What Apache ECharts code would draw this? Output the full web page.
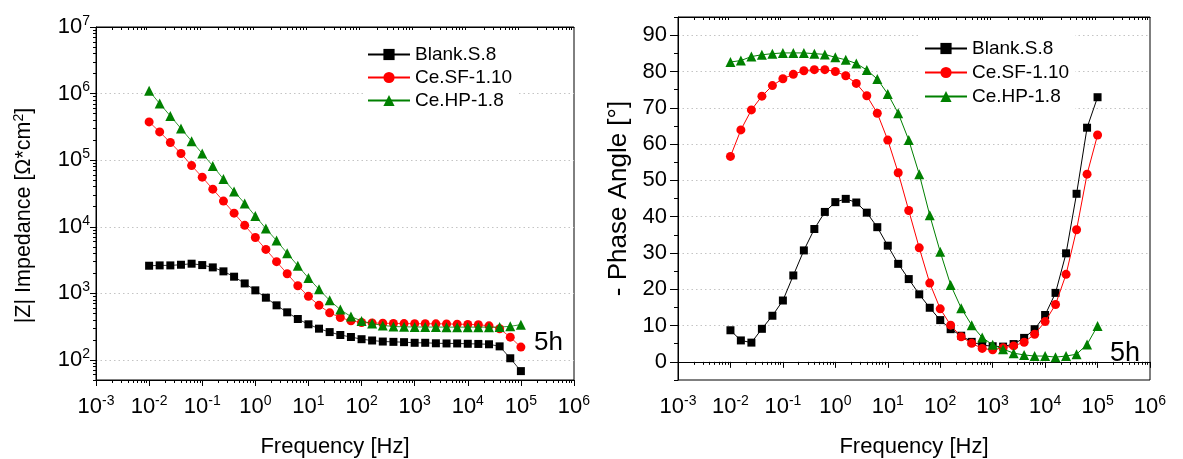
<!DOCTYPE html>
<html>
<head>
<meta charset="utf-8">
<script src="https://cdn.jsdelivr.net/npm/echarts@6/dist/echarts.min.js"></script>
<style>html,body{margin:0;padding:0;background:#fff}#c{width:1183px;height:459px}</style>
</head>
<body>
<div id="c"></div>
<script>
// ---------- data ----------
const freqHz = [0.01, 0.0158, 0.0251, 0.0398, 0.0631, 0.1, 0.158, 0.251, 0.398, 0.631,
  1, 1.58, 2.51, 3.98, 6.31, 10, 15.8, 25.1, 39.8, 63.1,
  100, 158, 251, 398, 631, 1000, 1580, 2510, 3980, 6310,
  10000, 15800, 25100, 39800, 63100, 100000];

const zBlank = [2600, 2630, 2630, 2690, 2790, 2660, 2455, 2140, 1780, 1410,
  1110, 861, 661, 519, 412, 343, 295, 262, 237, 221,
  205, 196, 189, 187, 185, 181, 181, 178, 177, 177,
  175, 174, 172, 160, 106, 68];
const zSF = [376000, 266000, 184000, 126000, 83000, 55600, 36700, 24300, 16000, 10500,
  6900, 4570, 2990, 1970, 1300, 902, 661, 510, 434, 387,
  365, 360, 356, 354, 352, 351, 350, 349, 348, 345,
  342, 338, 325, 294, 220, 156];
const zHP = [1100000, 708000, 462000, 299000, 193000, 126000, 82000, 52000, 34000, 22400,
  14500, 9400, 6200, 4000, 2600, 1700, 1150, 785, 570, 448,
  385, 352, 330, 318, 314, 313, 312, 312, 311, 311,
  311, 311, 311, 312, 320, 339];

const phBlank = [8.7, 5.9, 5.3, 9.1, 12.7, 16.9, 23.8, 30.7, 36.6, 41.3,
  44.0, 44.9, 43.9, 41.1, 37.1, 32.0, 27.0, 22.8, 18.6, 14.9,
  11.5, 9.0, 7.2, 5.5, 4.6, 4.3, 4.2, 4.9, 6.6, 9.0,
  12.9, 19.0, 29.9, 46.3, 64.5, 72.9];
const phSF = [56.6, 63.9, 69.4, 73.2, 76.1, 78.0, 79.2, 80.2, 80.5, 80.5,
  80.0, 78.8, 76.7, 73.3, 68.5, 61.1, 52.1, 41.7, 31.4, 21.7,
  14.6, 10.1, 6.9, 5.1, 3.7, 3.3, 3.9, 4.4, 5.4, 7.6,
  11.1, 15.8, 24.1, 36.4, 51.7, 62.5];
const phHP = [82.6, 83.0, 84.1, 84.6, 84.9, 85.1, 85.1, 85.1, 84.9, 84.7,
  83.9, 83.2, 82.2, 80.4, 77.9, 73.8, 68.5, 61.1, 51.7, 40.4,
  30.3, 21.2, 14.8, 10.1, 6.7, 4.7, 3.5, 2.4, 1.9, 1.6,
  1.6, 1.3, 1.6, 2.1, 4.8, 9.9];

const seriesNames = ['Blank.S.8', 'Ce.SF-1.10', 'Ce.HP-1.8'];
const seriesColors = ['#000000', '#ff0000', '#008000'];
const seriesSymbols = ['rect', 'circle', 'triangle'];
const seriesSymbolSizes = [8, 9, 10];

const freqTickExp = [-3, -2, -1, 0, 1, 2, 3, 4, 5, 6];
const zTickExp = [2, 3, 4, 5, 6, 7];
const phaseTicks = [0, 10, 20, 30, 40, 50, 60, 70, 80, 90];

const xTitle = 'Frequency [Hz]';
const zTitle = '|Z| Impedance [Ω*cm{sup|2}]';
const phTitle = '- Phase Angle [°]';
const timeTag = '5h';

// ---------- helpers ----------
const FF = "'Liberation Sans', Arial, sans-serif";
const pow10 = e => Math.pow(10, e);
function minorLog(lo, hi) {
  const out = [];
  for (let e = Math.floor(Math.log10(lo)); e <= Math.ceil(Math.log10(hi)); e++) {
    for (let m = 2; m <= 9; m++) {
      const v = m * Math.pow(10, e);
      if (v >= lo * 0.999 && v <= hi * 1.001) out.push(v);
    }
  }
  return out;
}
const powRich = {
  b: { fontSize: 22, lineHeight: 26, fontFamily: FF, color: '#000' },
  s: { fontSize: 14, lineHeight: 14, verticalAlign: 'top', fontFamily: FF, color: '#000' }
};
const powFormatter = v => '{b|10}{s|' + Math.round(Math.log10(v)) + '}';
const gridLine = { show: true, lineStyle: { color: '#c4c4c4', width: 1, type: [1.5, 3] } };
const blackLine = { show: true, lineStyle: { color: '#000', width: 1 } };

function logXAxes(gi) {
  const majors = freqTickExp.map(pow10);
  const minors = minorLog(0.001, 1e6);
  return [
    { gridIndex: gi, type: 'log', logBase: 10, min: 0.001, max: 1e6, position: 'bottom',
      axisLine: blackLine,
      axisTick: { show: true, inside: false, length: 6, customValues: majors, lineStyle: { color: '#000' } },
      axisLabel: { show: true, customValues: majors, formatter: powFormatter, rich: powRich, margin: 14 },
      splitLine: { show: false }, minorTick: { show: false },
      name: xTitle, nameLocation: 'middle', nameGap: 55,
      nameTextStyle: { fontSize: 22, fontFamily: FF, color: '#000', lineHeight: 24 } },
    { gridIndex: gi, type: 'log', logBase: 10, min: 0.001, max: 1e6, position: 'bottom',
      axisLine: { show: false },
      axisTick: { show: true, inside: false, length: 3, customValues: minors, lineStyle: { color: '#000' } },
      axisLabel: { show: false }, splitLine: { show: false } },
    { gridIndex: gi, type: 'log', logBase: 10, min: 0.001, max: 1e6, position: 'top',
      axisLine: blackLine,
      axisTick: { show: true, inside: true, length: 3, customValues: minors, lineStyle: { color: '#000' } },
      axisLabel: { show: false }, splitLine: { show: false } }
  ];
}

function mkSeries(vals, k, xi, yi, lw) {
  return {
    type: 'line', name: seriesNames[k], xAxisIndex: xi, yAxisIndex: yi,
    data: freqHz.map((f, i) => [f, vals[i]]),
    symbol: seriesSymbols[k], symbolSize: seriesSymbolSizes[k], showSymbol: true,
    lineStyle: { color: seriesColors[k], width: lw },
    itemStyle: { color: seriesColors[k] },
    emphasis: { disabled: true }, animation: false, clip: false, z: 3 + k
  };
}

const legendBase = {
  orient: 'vertical', itemWidth: 42, itemHeight: 14, itemGap: 4,
  backgroundColor: '#ffffff', padding: [4, 6, 4, 4],
  textStyle: { fontSize: 19, fontFamily: FF, color: '#000' },
  data: seriesNames, selectedMode: false
};

const chart = echarts.init(document.getElementById('c'), null, { renderer: 'canvas' });
chart.setOption({
  backgroundColor: '#ffffff',
  animation: false,
  textStyle: { fontFamily: FF },
  grid: [
    { left: 96, top: 27, width: 478, height: 353, show: true, borderColor: '#000', borderWidth: 1, backgroundColor: 'transparent', outerBoundsMode: 'none' },
    { left: 678, top: 17, width: 472, height: 363, show: true, borderColor: '#000', borderWidth: 1, backgroundColor: 'transparent', outerBoundsMode: 'none' }
  ],
  legend: [
    Object.assign({}, legendBase, { left: 363, top: 41 }),
    Object.assign({}, legendBase, { left: 920, top: 35, itemGap: 5 })
  ],
  xAxis: [].concat(logXAxes(0), logXAxes(1)),
  yAxis: [
    // left plot |Z|
    { gridIndex: 0, type: 'log', logBase: 10, min: 50, max: 1e7, position: 'left',
      axisLine: blackLine,
      axisTick: { show: true, inside: false, length: 6, customValues: zTickExp.map(pow10), lineStyle: { color: '#000' } },
      axisLabel: { show: true, customValues: zTickExp.map(pow10), formatter: powFormatter, rich: powRich, margin: 6 },
      splitLine: gridLine, minorTick: { show: false },
      name: zTitle, nameLocation: 'middle', nameGap: 60,
      nameTextStyle: { fontSize: 21.5, fontFamily: FF, color: '#000', lineHeight: 24, padding: [0, 24, 0, 0],
        rich: { sup: { fontSize: 14, lineHeight: 14, verticalAlign: 'top', fontFamily: FF, color: '#000' } } } },
    { gridIndex: 0, type: 'log', logBase: 10, min: 50, max: 1e7, position: 'left',
      axisLine: { show: false },
      axisTick: { show: true, inside: false, length: 3, customValues: minorLog(50, 1e7), lineStyle: { color: '#000' } },
      axisLabel: { show: false }, splitLine: { show: false } },
    // right plot phase
    { gridIndex: 1, type: 'value', min: -5, max: 95, position: 'left',
      axisLine: blackLine,
      axisTick: { show: true, inside: false, length: 8, customValues: phaseTicks, lineStyle: { color: '#000' } },
      axisLabel: { show: true, customValues: phaseTicks, fontSize: 22, fontFamily: FF, color: '#000', margin: 11 },
      splitLine: gridLine,
      name: phTitle, nameLocation: 'middle', nameGap: 46,
      nameTextStyle: { fontSize: 26, fontFamily: FF, color: '#000', lineHeight: 26 } },
    { gridIndex: 1, type: 'value', min: -5, max: 95, interval: 5, position: 'left',
      axisLine: { show: false },
      axisTick: { show: true, inside: false, length: 4, lineStyle: { color: '#000' } },
      axisLabel: { show: false }, splitLine: { show: false } }
  ],
  series: [
    mkSeries(zBlank, 0, 0, 0, 0.8), mkSeries(zSF, 1, 0, 0, 0.8), mkSeries(zHP, 2, 0, 0, 0.8),
    mkSeries(phBlank, 0, 3, 2, 1), mkSeries(phSF, 1, 3, 2, 1), mkSeries(phHP, 2, 3, 2, 1)
  ],
  graphic: [
    { type: 'text', left: 534, top: 330, style: { text: timeTag, font: '26px ' + FF, fill: '#000' } },
    { type: 'text', left: 1110, top: 340, style: { text: timeTag, font: '27px ' + FF, fill: '#000' } }
  ]
});
</script>
</body>
</html>
